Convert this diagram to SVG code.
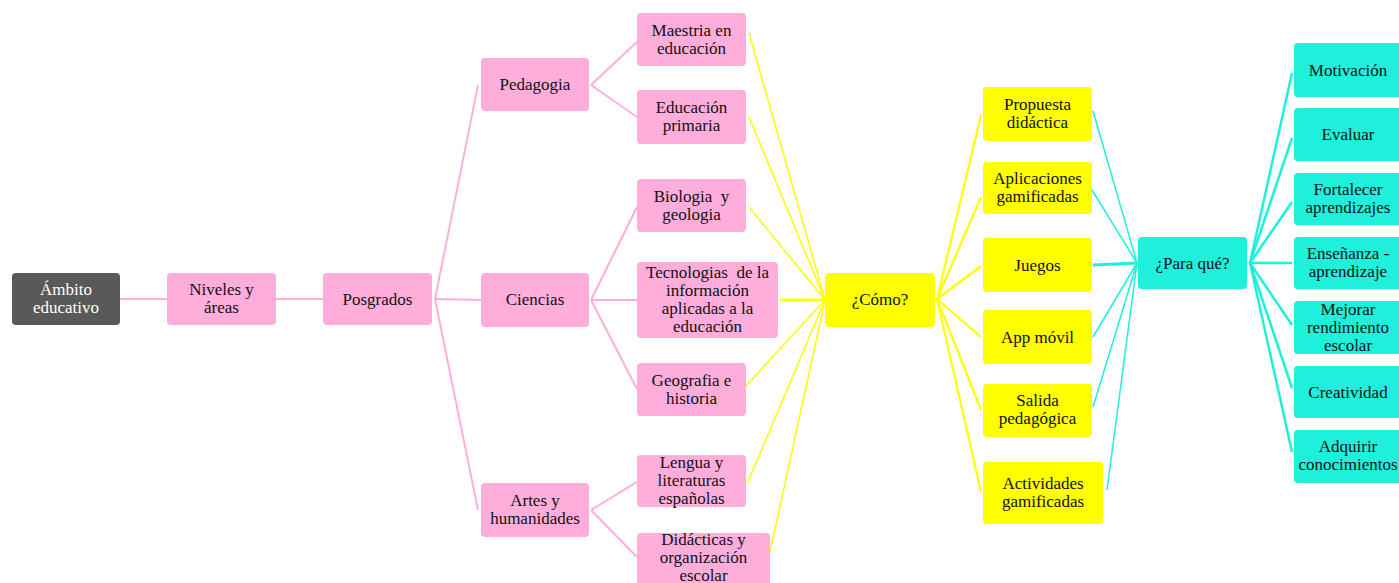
<svg xmlns="http://www.w3.org/2000/svg" width="1399" height="583" viewBox="0 0 1399 583" font-family="Liberation Serif, DejaVu Serif, serif">
<style>
text{font-family:'Liberation Serif','DejaVu Serif',serif;font-size:17px;fill:#111;text-anchor:middle;white-space:pre}
.pk{fill:#FFAEDC}
.yl{fill:#FFFF00}
.cy{fill:#1EF0DC}
.dk{fill:#595959}
.w{fill:#fff}
.ep{stroke:#FFAEDC;stroke-width:2;fill:none}
.ey{stroke:#FFFF00;stroke-width:1.5;fill:none}
.ey2{stroke:#FFFF00;stroke-width:2.2;fill:none}
.ec{stroke:#1EF0DC;stroke-width:1.5;fill:none}
.ec2{stroke:#1EF0DC;stroke-width:2.5;fill:none}
</style>
<rect width="1399" height="583" fill="#fff"/>
<g id="connectors">
<line class="ep" x1="120" y1="299" x2="167" y2="299"/>
<line class="ep" x1="276" y1="299" x2="323" y2="299"/>
<line class="ep" x1="435" y1="299" x2="478" y2="85"/>
<line class="ep" x1="435" y1="299" x2="481" y2="300"/>
<line class="ep" x1="435" y1="299" x2="478" y2="510"/>
<line class="ep" x1="591" y1="85" x2="637" y2="42"/>
<line class="ep" x1="591" y1="85" x2="637" y2="117"/>
<line class="ep" x1="591" y1="300" x2="637" y2="207"/>
<line class="ep" x1="591" y1="300" x2="637" y2="300"/>
<line class="ep" x1="591" y1="300" x2="637" y2="389"/>
<line class="ep" x1="591" y1="510" x2="637" y2="482"/>
<line class="ep" x1="591" y1="510" x2="637" y2="557"/>
<line class="ey" x1="749" y1="33" x2="825" y2="300"/>
<line class="ey" x1="749" y1="117" x2="825" y2="300"/>
<line class="ey" x1="749" y1="207" x2="825" y2="300"/>
<line class="ey" x1="780" y1="300" x2="825" y2="300" style="stroke-width:3"/>
<line class="ey" x1="744" y1="388" x2="825" y2="300"/>
<line class="ey" x1="748" y1="482" x2="825" y2="300"/>
<line class="ey" x1="770" y1="552" x2="825" y2="300"/>
<line class="ey2" x1="937" y1="299" x2="981" y2="115"/>
<line class="ey2" x1="937" y1="299" x2="981" y2="197"/>
<line class="ey2" x1="937" y1="299" x2="981" y2="266"/>
<line class="ey2" x1="937" y1="299" x2="981" y2="337"/>
<line class="ey2" x1="937" y1="299" x2="981" y2="410"/>
<line class="ey2" x1="937" y1="299" x2="981" y2="492"/>
<line class="ec" x1="1093" y1="111" x2="1137" y2="263"/>
<line class="ec" x1="1092" y1="190" x2="1137" y2="263"/>
<line class="ec" x1="1093" y1="265" x2="1137" y2="263" style="stroke-width:3"/>
<line class="ec" x1="1093" y1="337" x2="1137" y2="263"/>
<line class="ec" x1="1093" y1="407" x2="1137" y2="263"/>
<line class="ec" x1="1107" y1="490" x2="1137" y2="263"/>
<line class="ec2" x1="1250" y1="263" x2="1292" y2="73"/>
<line class="ec2" x1="1250" y1="263" x2="1292" y2="138"/>
<line class="ec2" x1="1250" y1="263" x2="1292" y2="202"/>
<line class="ec2" x1="1250" y1="263" x2="1292" y2="263"/>
<line class="ec2" x1="1250" y1="263" x2="1292" y2="325"/>
<line class="ec2" x1="1250" y1="263" x2="1292" y2="388"/>
<line class="ec2" x1="1250" y1="263" x2="1292" y2="452"/>
</g>
<g id="n-ambito"><rect class="dk" x="12" y="273" width="108" height="52" rx="4"/><text class="w" x="66" y="295">Ámbito</text><text class="w" x="66" y="313">educativo</text></g>
<g id="n-niveles"><rect class="pk" x="167" y="273" width="109" height="52" rx="4"/><text x="221.5" y="295">Niveles y</text><text x="221.5" y="313">áreas</text></g>
<g id="n-posgrados"><rect class="pk" x="323" y="273" width="109" height="52" rx="4"/><text x="377.5" y="305">Posgrados</text></g>
<g id="n-pedagogia"><rect class="pk" x="481" y="58" width="108" height="53" rx="4"/><text x="535" y="90">Pedagogia</text></g>
<g id="n-ciencias"><rect class="pk" x="481" y="273" width="108" height="54" rx="4"/><text x="535" y="305">Ciencias</text></g>
<g id="n-artes"><rect class="pk" x="481" y="483" width="108" height="54" rx="4"/><text x="535" y="506">Artes y</text><text x="535" y="524">humanidades</text></g>
<g id="n-maestria"><rect class="pk" x="637" y="13" width="109" height="53" rx="4"/><text x="691.5" y="36">Maestria en</text><text x="691.5" y="54">educación</text></g>
<g id="n-primaria"><rect class="pk" x="637" y="90" width="109" height="54" rx="4"/><text x="691.5" y="113">Educación</text><text x="691.5" y="131">primaria</text></g>
<g id="n-biologia"><rect class="pk" x="637" y="179" width="109" height="53" rx="4"/><text x="691.5" y="202">Biologia  y</text><text x="691.5" y="220">geologia</text></g>
<g id="n-tecnologias"><rect class="pk" x="637" y="262" width="141" height="76" rx="4"/><text x="707.5" y="278">Tecnologias  de la</text><text x="707.5" y="296">información</text><text x="707.5" y="314">aplicadas a la</text><text x="707.5" y="332">educación</text></g>
<g id="n-geografia"><rect class="pk" x="637" y="363" width="109" height="53" rx="4"/><text x="691.5" y="386">Geografia e</text><text x="691.5" y="404">historia</text></g>
<g id="n-lengua"><rect class="pk" x="637" y="455" width="109" height="52" rx="4"/><text x="691.5" y="468">Lengua y</text><text x="691.5" y="486">literaturas</text><text x="691.5" y="504">españolas</text></g>
<g id="n-didacticas"><rect class="pk" x="637" y="533" width="133" height="58" rx="4"/><text x="703.5" y="545">Didácticas y</text><text x="703.5" y="563">organización</text><text x="703.5" y="581">escolar</text></g>
<g id="n-como"><rect class="yl" x="825" y="273" width="110" height="54" rx="4"/><text x="880" y="305">¿Cómo?</text></g>
<g id="n-propuesta"><rect class="yl" x="983" y="87" width="109" height="54" rx="4"/><text x="1037.5" y="110">Propuesta</text><text x="1037.5" y="128">didáctica</text></g>
<g id="n-aplicaciones"><rect class="yl" x="983" y="162" width="109" height="52" rx="4"/><text x="1037.5" y="184">Aplicaciones</text><text x="1037.5" y="202">gamificadas</text></g>
<g id="n-juegos"><rect class="yl" x="983" y="238" width="109" height="54" rx="4"/><text x="1037.5" y="271">Juegos</text></g>
<g id="n-app"><rect class="yl" x="983" y="310" width="109" height="54" rx="4"/><text x="1037.5" y="343">App móvil</text></g>
<g id="n-salida"><rect class="yl" x="983" y="384" width="109" height="53" rx="4"/><text x="1037.5" y="406">Salida</text><text x="1037.5" y="424">pedagógica</text></g>
<g id="n-actividades"><rect class="yl" x="983" y="462" width="120" height="62" rx="4"/><text x="1043" y="489">Actividades</text><text x="1043" y="507">gamificadas</text></g>
<g id="n-paraque"><rect class="cy" x="1138" y="237" width="109" height="52" rx="4"/><text x="1192.5" y="269">¿Para qué?</text></g>
<g id="n-motivacion"><rect class="cy" x="1294" y="43" width="110" height="54" rx="4"/><text x="1348" y="76">Motivación</text></g>
<g id="n-evaluar"><rect class="cy" x="1294" y="108" width="110" height="53" rx="4"/><text x="1348" y="140">Evaluar</text></g>
<g id="n-fortalecer"><rect class="cy" x="1294" y="173" width="110" height="52" rx="4"/><text x="1348" y="195">Fortalecer</text><text x="1348" y="213">aprendizajes</text></g>
<g id="n-ensenanza"><rect class="cy" x="1294" y="237" width="110" height="52" rx="4"/><text x="1348" y="259">Enseñanza -</text><text x="1348" y="277">aprendizaje</text></g>
<g id="n-mejorar"><rect class="cy" x="1294" y="301" width="110" height="53" rx="4"/><text x="1348" y="315">Mejorar</text><text x="1348" y="333">rendimiento</text><text x="1348" y="351">escolar</text></g>
<g id="n-creatividad"><rect class="cy" x="1294" y="366" width="110" height="52" rx="4"/><text x="1348" y="398">Creatividad</text></g>
<g id="n-adquirir"><rect class="cy" x="1294" y="430" width="110" height="53" rx="4"/><text x="1348" y="452">Adquirir</text><text x="1348" y="470">conocimientos</text></g>
</svg>
